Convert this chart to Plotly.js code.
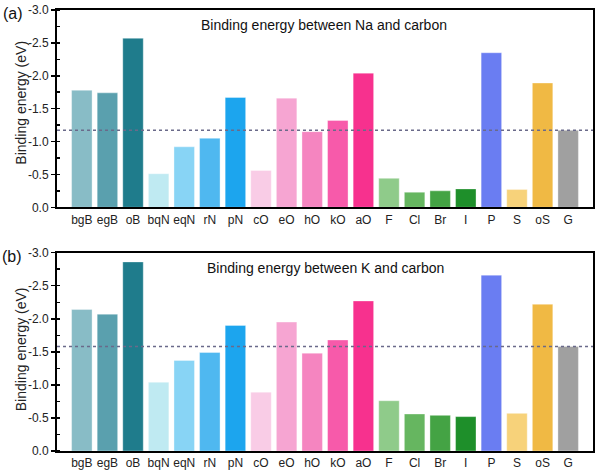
<!DOCTYPE html>
<html>
<head>
<meta charset="utf-8">
<script src="https://cdn.plot.ly/plotly-3.0.1.min.js"></script>
<style>html,body{margin:0;padding:0;background:#fff;}#chart{width:597px;height:470px;}</style>
</head>
<body>
<div id="chart"></div>
<script>
const categories = ["bgB","egB","oB","bqN","eqN","rN","pN","cO","eO","hO","kO","aO","F","Cl","Br","I","P","S","oS","G"];
const naValues = [-1.78,-1.74,-2.57,-0.51,-0.92,-1.05,-1.67,-0.56,-1.66,-1.15,-1.32,-2.04,-0.44,-0.23,-0.25,-0.28,-2.35,-0.27,-1.89,-1.17];
const kValues  = [-2.14,-2.07,-2.86,-1.04,-1.37,-1.49,-1.90,-0.89,-1.95,-1.48,-1.68,-2.27,-0.76,-0.56,-0.54,-0.52,-2.66,-0.57,-2.22,-1.58];
const naReference = -1.17;
const kReference = -1.58;
const barColors = ["#88bcc6","#5aa0ae","#1f7c8c","#bfeaf2","#88d4f5","#4fb8f0","#1ca5ee","#f9cce6","#f6a5d2","#f585c0","#f75aaa","#f7318e","#8fcb8a","#66b660","#44a344","#1e8f2a","#6a7df2","#f7d27a","#f0b944","#a0a0a0"];
const yTickVals = [0,-0.5,-1.0,-1.5,-2.0,-2.5,-3.0];
const yTickText = ["0.0","-0.5","-1.0","-1.5","-2.0","-2.5","-3.0"];
const panelTitles = ["Binding energy between Na and carbon","Binding energy between K and carbon"];
const panelLabels = ["(a)","(b)"];
const yTitle = "Binding energy (eV)";

const FONT = "Liberation Sans, Arial, sans-serif";

function barTrace(vals, xa, ya){
  return {type:'bar', x:categories, y:vals, xaxis:xa, yaxis:ya,
    marker:{color:barColors, line:{color:'rgba(255,255,255,0.35)', width:1}},
    width:0.8, hoverinfo:'x+y', showlegend:false};
}
const data = [barTrace(naValues,'x','y'), barTrace(kValues,'x2','y2')];

function yAxis(domain, anchor){
  return {domain:domain, anchor:anchor, range:[0,-3.0], autorange:false,
    tickmode:'array', tickvals:yTickVals, ticktext:yTickText,
    ticks:'outside', ticklen:4, tickwidth:1.5, tickcolor:'#000',
    minor:{tickmode:'linear', tick0:0, dtick:0.25, ticks:'inside', ticklen:3, tickwidth:1.5, tickcolor:'#000'},
    showline:true, linewidth:2, linecolor:'#000', mirror:true,
    showgrid:false, zeroline:false,
    tickfont:{family:FONT, size:12, color:'#222'}};
}
function xAxis(anchor){
  return {anchor:anchor, type:'category', range:[-0.97,19.97], autorange:false,
    ticks:'', showline:true, linewidth:2, linecolor:'#000', mirror:true,
    showgrid:false, zeroline:false,
    tickfont:{family:FONT, size:12, color:'#222'}};
}

const layout = {
  width:597, height:470,
  margin:{l:57, r:4, t:10, b:19},
  paper_bgcolor:'#fff', plot_bgcolor:'#fff',
  font:{family:FONT, color:'#222'},
  xaxis:xAxis('y'), yaxis:yAxis([0.5526,1],'x'),
  xaxis2:xAxis('y2'), yaxis2:yAxis([0,0.4497],'x2'),
  bargap:0.2,
  shapes:[
    {type:'line', xref:'x domain', yref:'y', x0:0, x1:1, y0:naReference, y1:naReference, layer:'above',
     line:{color:'#6a6a8a', width:1.5, dash:'dot'}},
    {type:'line', xref:'x2 domain', yref:'y2', x0:0, x1:1, y0:kReference, y1:kReference, layer:'above',
     line:{color:'#6a6a8a', width:1.5, dash:'dot'}}
  ],
  annotations:[
    {text:panelTitles[0], xref:'x domain', yref:'y domain', x:0.498, y:0.924, xanchor:'center', yanchor:'middle', showarrow:false, font:{family:FONT, size:14, color:'#111'}},
    {text:panelTitles[1], xref:'x2 domain', yref:'y2 domain', x:0.5, y:0.921, xanchor:'center', yanchor:'middle', showarrow:false, font:{family:FONT, size:14, color:'#111'}},
    {text:yTitle, xref:'paper', yref:'paper', x:-0.067, y:0.79, xanchor:'center', yanchor:'middle', textangle:-90, showarrow:false, font:{family:FONT, size:14, color:'#222'}},
    {text:yTitle, xref:'paper', yref:'paper', x:-0.067, y:0.231, xanchor:'center', yanchor:'middle', textangle:-90, showarrow:false, font:{family:FONT, size:14, color:'#222'}},
    {text:panelLabels[0], xref:'paper', yref:'paper', x:-0.104, y:0.993, xanchor:'left', yanchor:'middle', showarrow:false, font:{family:FONT, size:16, color:'#111'}},
    {text:panelLabels[1], xref:'paper', yref:'paper', x:-0.106, y:0.442, xanchor:'left', yanchor:'middle', showarrow:false, font:{family:FONT, size:16, color:'#111'}}
  ]
};
Plotly.newPlot('chart', data, layout, {displayModeBar:false, staticPlot:true});
</script>
</body>
</html>
